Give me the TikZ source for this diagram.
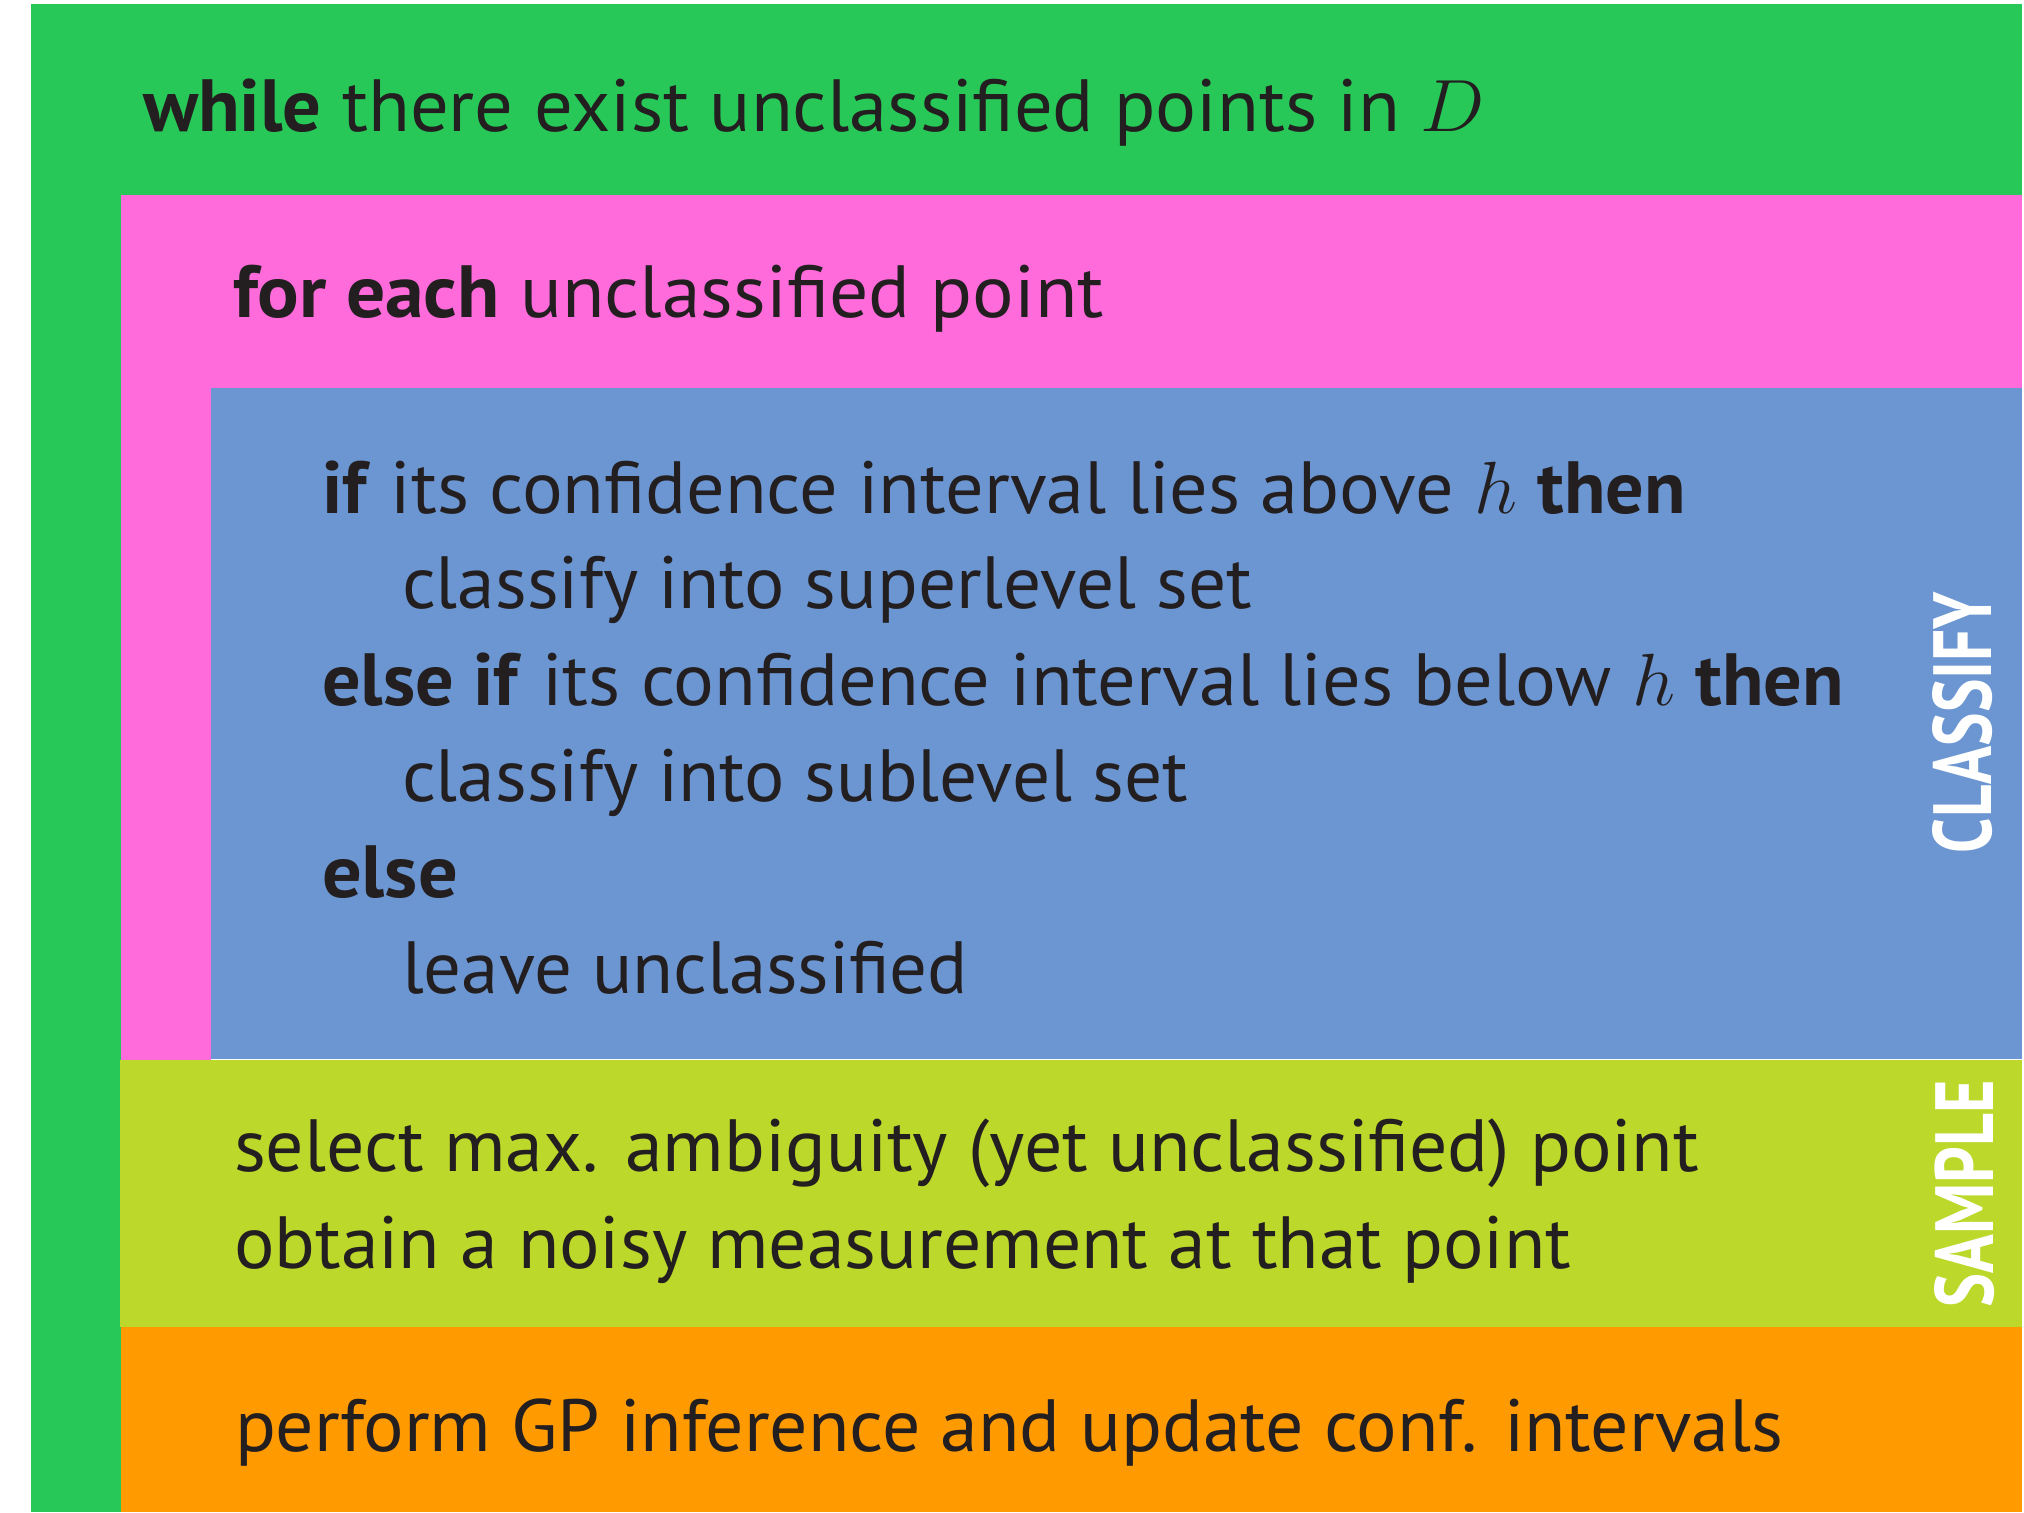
\documentclass[tikz,border=0pt]{standalone}
\usepackage{fix-cm}
\usepackage{graphicx}
\usepackage{fontspec}
\setmainfont{PT Sans}
\definecolor{cgreen}{HTML}{28C858}
\definecolor{cpink}{HTML}{FF6BDB}
\definecolor{cblue}{HTML}{6C96D2}
\definecolor{cyel}{HTML}{BCD82A}
\definecolor{corange}{HTML}{FF9A00}
\definecolor{ink}{HTML}{231F20}
\newcommand{\bodysz}{\fontsize{37pt}{44pt}\selectfont}
\newcommand{\fitline}[2]{\resizebox{#1}{\height}{#2}}
\newcommand{\fitbox}[3]{\resizebox{#1}{#2}{#3}}
\tikzset{
  txt/.style={anchor=base west, inner sep=0pt, outer sep=0pt, text=ink, font=\bodysz},
  sidelbl/.style={anchor=base, inner sep=0pt, outer sep=0pt, text=white, rotate=90, font=\fontsize{40pt}{48pt}\selectfont\bfseries}
}
\begin{document}
\begin{tikzpicture}[x=0.5pt,y=-0.5pt]
\useasboundingbox (0,0) rectangle (2024,1512);
\fill[white] (0,0) rectangle (2024,1512);
% nested loop regions
\fill[cgreen]  (31,4)     rectangle (2022,1512);
\fill[cpink]   (121,195)  rectangle (2022,1060);
\fill[cblue]   (211,388)  rectangle (2022,1059);
\fill[cyel]    (120,1060) rectangle (2022,1327);
\fill[corange] (121,1327) rectangle (2022,1512);
\draw[white, line width=0.6pt] (211,1059.5) -- (2022,1059.5);
% texts
\node[txt] (while) at (143,131) {\fitline{671pt}{\textbf{while} there exist unclassified points in $D$}};
\node[txt] (foreach) at (233,317) {\fitline{435.5pt}{\textbf{for each} unclassified point}};
\node[txt] (ifabove) at (322,513) {\fitline{682pt}{\textbf{if} its confidence interval lies above $h$ \textbf{then}}};
\node[txt] (super) at (402,608) {\fitline{425pt}{classify into superlevel set}};
\node[txt] (elseif) at (322,705) {\fitline{761pt}{\textbf{else if} its confidence interval lies below $h$ \textbf{then}}};
\node[txt] (sub) at (402,801) {\fitline{393pt}{classify into sublevel set}};
\node[txt] (else) at (322,897) {\fitline{68pt}{\textbf{else}}};
\node[txt] (leave) at (402,993) {\fitline{283pt}{leave unclassified}};
\node[txt] (select) at (234,1171) {\fitline{732.5pt}{select max. ambiguity (yet unclassified) point}};
\node[txt] (obtain) at (234,1268) {\fitline{668.5pt}{obtain a noisy measurement at that point}};
\node[txt] (perform) at (235,1451) {\fitline{774pt}{perform GP inference and update conf. intervals}};
% side labels
\node[sidelbl] (classify) at (1991,722.5) {\fitbox{130.5pt}{29.5pt}{CLASSIFY}};
\node[sidelbl] (sample) at (1993,1193.5) {\fitbox{113.5pt}{29.5pt}{SAMPLE}};
\end{tikzpicture}
\end{document}
